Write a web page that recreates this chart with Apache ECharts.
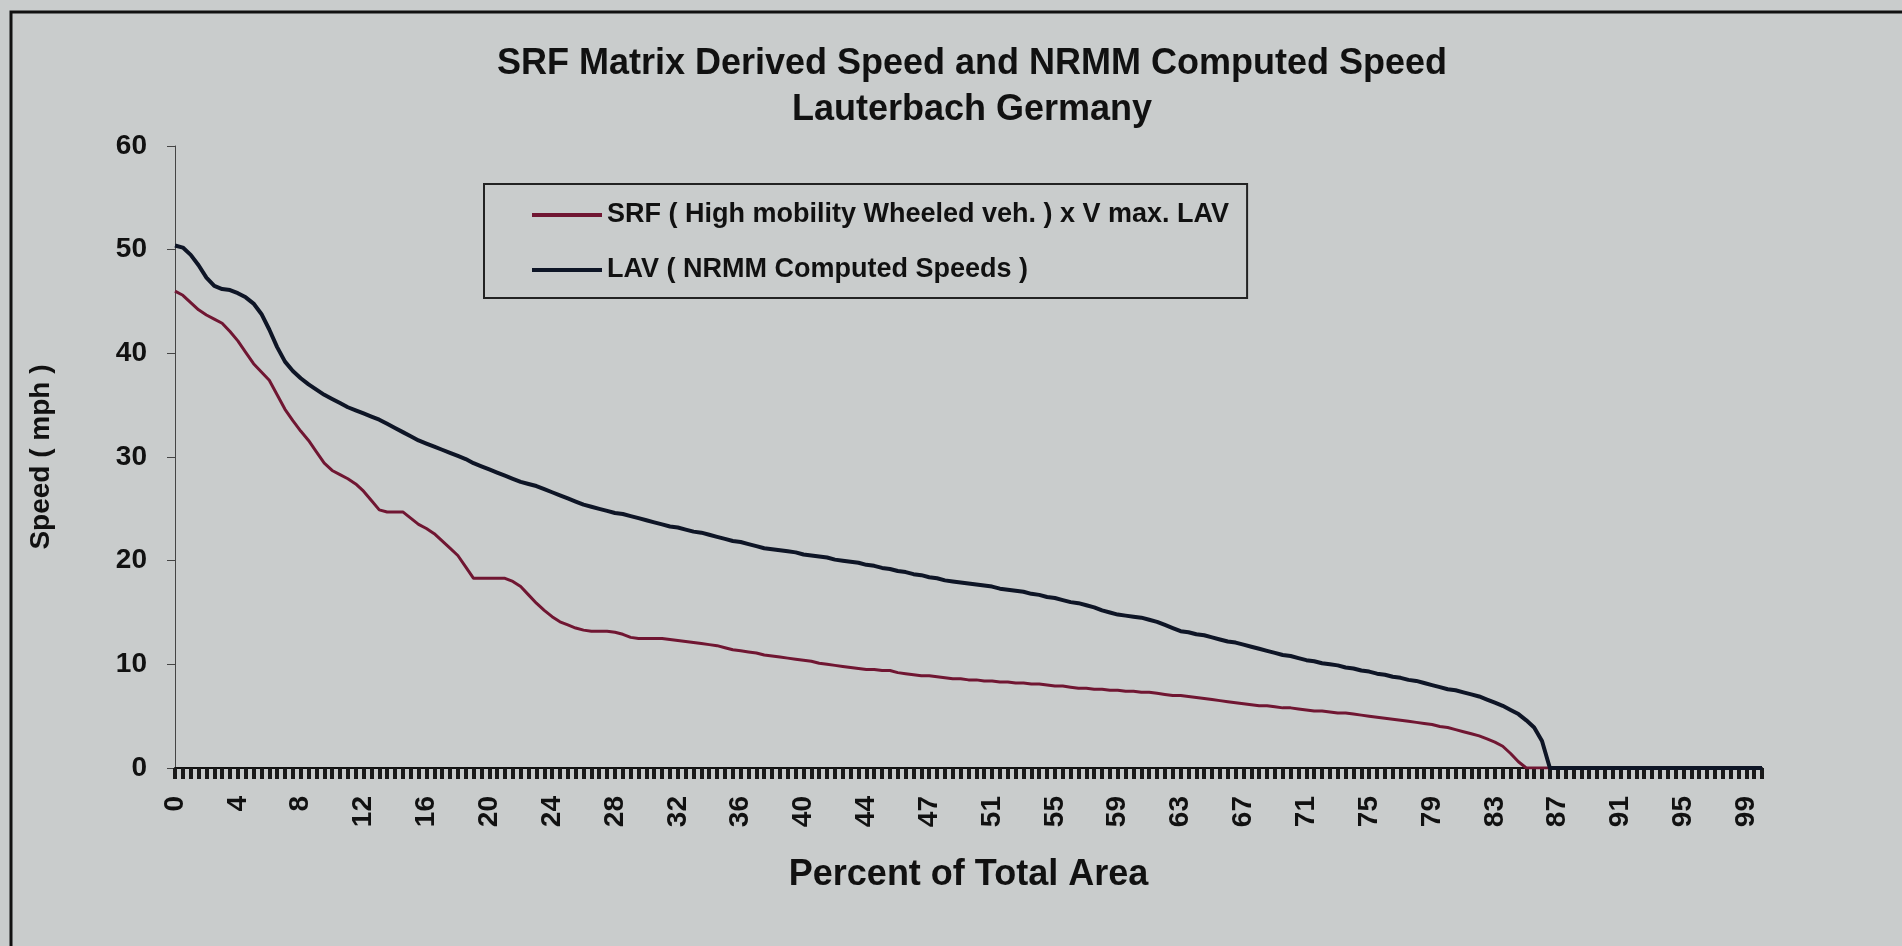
<!DOCTYPE html>
<html>
<head>
<meta charset="utf-8">
<title>SRF Matrix Derived Speed and NRMM Computed Speed</title>
<script src="https://cdn.jsdelivr.net/npm/echarts@6/dist/echarts.min.js"></script>
<style>
  html, body { margin: 0; padding: 0; background: #c9cccc; }
  #myChart { width: 1902px; height: 946px; }
</style>
</head>
<body>
<div id="myChart"></div>
<script>
// labels shown under every 8th category
const tickLabels = ['0', '4', '8', '12', '16', '20', '24', '28', '32', '36', '40', '44', '47',
  '51', '55', '59', '63', '67', '71', '75', '79', '83', '87', '91', '95', '99']

// SRF ( High mobility Wheeled veh. ) x V max. LAV, one value per category (mph)
const srfSpeed = [
  46.0, 45.6, 44.9, 44.2, 43.7, 43.3, 42.9, 42.1, 41.2, 40.1,
  39.0, 38.2, 37.4, 36.0, 34.6, 33.5, 32.5, 31.6, 30.5, 29.4,
  28.7, 28.3, 27.9, 27.4, 26.7, 25.8, 24.9, 24.7, 24.7, 24.7,
  24.1, 23.5, 23.1, 22.6, 21.9, 21.2, 20.5, 19.4, 18.3, 18.3,
  18.3, 18.3, 18.3, 18.0, 17.5, 16.7, 15.9, 15.2, 14.6, 14.1,
  13.8, 13.5, 13.3, 13.2, 13.2, 13.2, 13.1, 12.9, 12.6, 12.5,
  12.5, 12.5, 12.5, 12.4, 12.3, 12.2, 12.1, 12.0, 11.9, 11.8,
  11.6, 11.4, 11.3, 11.2, 11.1, 10.9, 10.8, 10.7, 10.6, 10.5,
  10.4, 10.3, 10.1, 10.0, 9.9, 9.8, 9.7, 9.6, 9.5, 9.5,
  9.4, 9.4, 9.2, 9.1, 9.0, 8.9, 8.9, 8.8, 8.7, 8.6,
  8.6, 8.5, 8.5, 8.4, 8.4, 8.3, 8.3, 8.2, 8.2, 8.1,
  8.1, 8.0, 7.9, 7.9, 7.8, 7.7, 7.7, 7.6, 7.6, 7.5,
  7.5, 7.4, 7.4, 7.3, 7.3, 7.2, 7.1, 7.0, 7.0, 6.9,
  6.8, 6.7, 6.6, 6.5, 6.4, 6.3, 6.2, 6.1, 6.0, 6.0,
  5.9, 5.8, 5.8, 5.7, 5.6, 5.5, 5.5, 5.4, 5.3, 5.3,
  5.2, 5.1, 5.0, 4.9, 4.8, 4.7, 4.6, 4.5, 4.4, 4.3,
  4.2, 4.0, 3.9, 3.7, 3.5, 3.3, 3.1, 2.8, 2.5, 2.1,
  1.4, 0.6, 0, 0, 0, 0, 0, 0, 0, 0,
  0, 0, 0, 0, 0, 0, 0, 0, 0, 0,
  0, 0, 0, 0, 0, 0, 0, 0, 0, 0,
  0, 0, 0
]

// LAV ( NRMM Computed Speeds ), one value per category (mph)
const lavSpeed = [
  50.4, 50.2, 49.5, 48.5, 47.3, 46.5, 46.2, 46.1, 45.8, 45.4,
  44.8, 43.8, 42.3, 40.6, 39.2, 38.3, 37.6, 37.0, 36.5, 36.0,
  35.6, 35.2, 34.8, 34.5, 34.2, 33.9, 33.6, 33.2, 32.8, 32.4,
  32.0, 31.6, 31.3, 31.0, 30.7, 30.4, 30.1, 29.8, 29.4, 29.1,
  28.8, 28.5, 28.2, 27.9, 27.6, 27.4, 27.2, 26.9, 26.6, 26.3,
  26.0, 25.7, 25.4, 25.2, 25.0, 24.8, 24.6, 24.5, 24.3, 24.1,
  23.9, 23.7, 23.5, 23.3, 23.2, 23.0, 22.8, 22.7, 22.5, 22.3,
  22.1, 21.9, 21.8, 21.6, 21.4, 21.2, 21.1, 21.0, 20.9, 20.8,
  20.6, 20.5, 20.4, 20.3, 20.1, 20.0, 19.9, 19.8, 19.6, 19.5,
  19.3, 19.2, 19.0, 18.9, 18.7, 18.6, 18.4, 18.3, 18.1, 18.0,
  17.9, 17.8, 17.7, 17.6, 17.5, 17.3, 17.2, 17.1, 17.0, 16.8,
  16.7, 16.5, 16.4, 16.2, 16.0, 15.9, 15.7, 15.5, 15.2, 15.0,
  14.8, 14.7, 14.6, 14.5, 14.3, 14.1, 13.8, 13.5, 13.2, 13.1,
  12.9, 12.8, 12.6, 12.4, 12.2, 12.1, 11.9, 11.7, 11.5, 11.3,
  11.1, 10.9, 10.8, 10.6, 10.4, 10.3, 10.1, 10.0, 9.9, 9.7,
  9.6, 9.4, 9.3, 9.1, 9.0, 8.8, 8.7, 8.5, 8.4, 8.2,
  8.0, 7.8, 7.6, 7.5, 7.3, 7.1, 6.9, 6.6, 6.3, 6.0,
  5.6, 5.2, 4.6, 3.9, 2.6, 0, 0, 0, 0, 0,
  0, 0, 0, 0, 0, 0, 0, 0, 0, 0,
  0, 0, 0, 0, 0, 0, 0, 0, 0, 0,
  0, 0, 0
]

const categories = srfSpeed.map((v, i) => String(i))

const font = "'Liberation Sans', Arial, sans-serif"
const ink = '#111'

const myChart = echarts.init(document.getElementById('myChart'))
myChart.setOption({
  animation: false,
  backgroundColor: '#c9cccc',
  textStyle: { fontFamily: font, fontWeight: 'bold', color: ink },
  title: {
    text: 'SRF Matrix Derived Speed and NRMM Computed Speed\nLauterbach Germany',
    left: 967,
    top: 36,
    textAlign: 'center',
    textStyle: { fontFamily: font, fontSize: 36, lineHeight: 46, fontWeight: 'bold', color: ink }
  },
  legend: {
    orient: 'vertical',
    left: 484,
    top: 184,
    padding: [17, 18, 14, 48],
    icon: 'rect',
    itemWidth: 70,
    itemHeight: 4,
    itemGap: 27,
    borderColor: '#222',
    borderWidth: 2,
    textStyle: { fontFamily: font, fontSize: 27, lineHeight: 28, fontWeight: 'bold', color: ink }
  },
  graphic: [
    {
      type: 'rect',
      silent: true,
      shape: { x: 11, y: 12, width: 2000, height: 1000 },
      style: { fill: 'none', stroke: ink, lineWidth: 3 }
    }
  ],
  grid: { left: 175, right: 140, top: 146, bottom: 178 },
  xAxis: {
    type: 'category',
    data: categories,
    boundaryGap: false,
    name: 'Percent of Total Area',
    nameLocation: 'middle',
    nameGap: 89,
    nameTextStyle: { fontFamily: font, fontSize: 36, fontWeight: 'bold', color: ink },
    axisLine: { lineStyle: { color: ink, width: 2 } },
    axisTick: { interval: 0, length: 11, lineStyle: { color: '#1a1a1a', width: 4 } },
    axisLabel: {
      interval: 7,
      rotate: 90,
      margin: 28,
      fontFamily: font,
      fontSize: 28,
      fontWeight: 'bold',
      color: ink,
      formatter: (value, index) => tickLabels[index / 8]
    }
  },
  yAxis: {
    type: 'value',
    min: 0,
    max: 60,
    interval: 10,
    name: 'Speed ( mph )',
    nameLocation: 'middle',
    nameRotate: 90,
    nameGap: 120,
    nameTextStyle: { fontFamily: font, fontSize: 28, fontWeight: 'bold', color: ink },
    axisLine: { show: true, lineStyle: { color: '#444', width: 1 } },
    axisTick: { show: true, length: 8, lineStyle: { color: '#444' } },
    splitLine: { show: false },
    axisLabel: { margin: 28, fontFamily: font, fontSize: 28, fontWeight: 'bold', color: ink }
  },
  series: [
    {
      name: 'SRF ( High mobility Wheeled veh. ) x V max. LAV',
      type: 'line',
      data: srfSpeed,
      symbol: 'none',
      z: 3,
      itemStyle: { color: '#701632' },
      lineStyle: { color: '#701632', width: 3 }
    },
    {
      name: 'LAV ( NRMM Computed Speeds )',
      type: 'line',
      data: lavSpeed,
      symbol: 'none',
      z: 4,
      itemStyle: { color: '#0e1526' },
      lineStyle: { color: '#0e1526', width: 4 }
    }
  ]
})
</script>
</body>
</html>
